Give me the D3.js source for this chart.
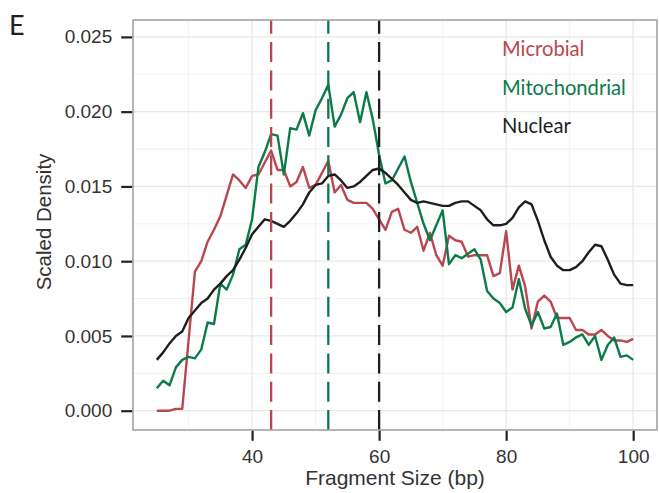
<!DOCTYPE html>
<html>
<head>
<meta charset="utf-8">
<script src="https://cdn.jsdelivr.net/npm/d3@7"></script>
<style>
  html, body { margin: 0; padding: 0; background: #fff; }
  svg { display: block; }
</style>
</head>
<body>
<svg id="chart" width="659" height="493"></svg>
<script>
// ---- data ----
const fragmentSizes = d3.range(25, 101); // 25..100 bp
const microbial = [
  0, 0, 0, 0.00012, 0.00012, 0.0047, 0.0093, 0.0100, 0.0113, 0.0121,
  0.0130, 0.0144, 0.0158, 0.0154, 0.0149, 0.0157, 0.0158, 0.0166, 0.0174, 0.0161,
  0.0161, 0.0150, 0.0153, 0.0163, 0.0149, 0.0151, 0.0159, 0.0167, 0.0146, 0.0151,
  0.0141, 0.0139, 0.0139, 0.0139, 0.0135, 0.0128, 0.0121, 0.0133, 0.0135, 0.0121,
  0.0119, 0.0123, 0.0107, 0.0119, 0.0104, 0.0097, 0.0117, 0.0114, 0.0113, 0.0103,
  0.0104, 0.0104, 0.0104, 0.0090, 0.0092, 0.0120, 0.0081, 0.0097, 0.0083, 0.0055,
  0.0073, 0.0077, 0.0073, 0.0062, 0.0062, 0.0062, 0.0054, 0.0054, 0.0051, 0.0051,
  0.0054, 0.0050, 0.0047, 0.0047, 0.0046, 0.0048
];
const mitochondrial = [
  0.0015, 0.0020, 0.0017, 0.0029, 0.0034, 0.0036, 0.0035, 0.0041, 0.0059, 0.0058,
  0.0085, 0.0081, 0.0091, 0.0108, 0.0111, 0.0128, 0.0163, 0.0173, 0.0185, 0.0184,
  0.0158, 0.0189, 0.0188, 0.0199, 0.0184, 0.0201, 0.0209, 0.0218, 0.0190, 0.0198,
  0.0209, 0.0213, 0.0193, 0.0213, 0.0195, 0.0171, 0.0152, 0.0154, 0.0162, 0.0170,
  0.0153, 0.0139, 0.0125, 0.0114, 0.0124, 0.0134, 0.0098, 0.0104, 0.0102, 0.0105,
  0.0108, 0.0101, 0.0080, 0.0075, 0.0072, 0.0066, 0.0069, 0.0088, 0.0068, 0.0057,
  0.0066, 0.0055, 0.0056, 0.0065, 0.0044, 0.0046, 0.0049, 0.0051, 0.0044, 0.0050,
  0.0034, 0.0044, 0.0049, 0.0036, 0.0037, 0.0034
];
const nuclear = [
  0.0034, 0.0039, 0.0045, 0.0050, 0.0053, 0.0062, 0.0067, 0.0072, 0.0075, 0.0081,
  0.0085, 0.0090, 0.0094, 0.0101, 0.0109, 0.0118, 0.0123, 0.0128, 0.0127, 0.0125,
  0.0123, 0.0127, 0.0132, 0.0138, 0.0146, 0.0151, 0.0152, 0.0157, 0.0158, 0.0154,
  0.0149, 0.0150, 0.0153, 0.0157, 0.0161, 0.0162, 0.0159, 0.0155, 0.0151, 0.0146,
  0.0141, 0.0139, 0.0140, 0.0139, 0.0138, 0.0137, 0.0137, 0.0139, 0.0140, 0.0140,
  0.0137, 0.0134, 0.0128, 0.0124, 0.0124, 0.0125, 0.0129, 0.0136, 0.0140, 0.0138,
  0.0127, 0.0114, 0.0103, 0.0097, 0.0094, 0.0094, 0.0096, 0.0100, 0.0106, 0.0111,
  0.0110, 0.0101, 0.0091, 0.0085, 0.0084, 0.0084
];
const seriesNames = ["Microbial", "Mitochondrial", "Nuclear"];
const seriesColors = ["#b8474f", "#0d7a4a", "#1e1e1e"];
const peakSizes = [43, 52, 60]; // dashed vertical lines (mode of each series)
const xTicks = [40, 60, 80, 100];
const yTicks = [0, 0.005, 0.010, 0.015, 0.020, 0.025];
const xTitle = "Fragment Size (bp)";
const yTitle = "Scaled Density";
const panelLabel = "E";

// ---- layout ----
const svg = d3.select("#chart");
const panel = { left: 133, right: 657, top: 20, bottom: 430 };

const x = d3.scaleLinear().domain([21.25, 103.75]).range([panel.left, panel.right]);
const y = d3.scaleLinear().domain([-0.00129, 0.02613]).range([panel.bottom, panel.top]);

// grid
const grid = svg.append("g");
const minorX = [30, 50, 70, 90];
const minorY = [0.0025, 0.0075, 0.0125, 0.0175, 0.0225];
grid.selectAll(".mx").data(minorX).join("line")
  .attr("x1", d => x(d)).attr("x2", d => x(d))
  .attr("y1", panel.top).attr("y2", panel.bottom)
  .attr("stroke", "#f3f3f3").attr("stroke-width", 1.1);
grid.selectAll(".my").data(minorY).join("line")
  .attr("y1", d => y(d)).attr("y2", d => y(d))
  .attr("x1", panel.left).attr("x2", panel.right)
  .attr("stroke", "#f0f0f0").attr("stroke-width", 1.1);
grid.selectAll(".Mx").data(xTicks).join("line")
  .attr("x1", d => x(d)).attr("x2", d => x(d))
  .attr("y1", panel.top).attr("y2", panel.bottom)
  .attr("stroke", "#e8e8e8").attr("stroke-width", 1.3);
grid.selectAll(".My").data(yTicks).join("line")
  .attr("y1", d => y(d)).attr("y2", d => y(d))
  .attr("x1", panel.left).attr("x2", panel.right)
  .attr("stroke", "#e8e8e8").attr("stroke-width", 1.3);

// clip
svg.append("clipPath").attr("id", "clip").append("rect")
  .attr("x", panel.left).attr("y", panel.top)
  .attr("width", panel.right - panel.left).attr("height", panel.bottom - panel.top);

const plot = svg.append("g").attr("clip-path", "url(#clip)");

// series lines
const allSeries = [microbial, mitochondrial, nuclear];
const line = d3.line().x((d, i) => x(fragmentSizes[i])).y(d => y(d));
allSeries.forEach((s, k) => {
  plot.append("path").datum(s)
    .attr("d", line)
    .attr("fill", "none")
    .attr("stroke", seriesColors[k])
    .attr("stroke-width", 2.4)
    .attr("stroke-linejoin", "round");
});

// dashed peak lines (drawn bottom -> top)
peakSizes.forEach((p, k) => {
  plot.append("line")
    .attr("x1", x(p)).attr("x2", x(p))
    .attr("y1", panel.bottom).attr("y2", panel.top)
    .attr("stroke", seriesColors[k])
    .attr("stroke-width", 2.3)
    .attr("stroke-dasharray", "20,8.3");
});

// panel border
svg.append("rect")
  .attr("x", panel.left).attr("y", panel.top)
  .attr("width", panel.right - panel.left).attr("height", panel.bottom - panel.top)
  .attr("fill", "none").attr("stroke", "#a3a3a3").attr("stroke-width", 1.6);

// axes
const tickFont = "'Liberation Sans', Arial, sans-serif";
const xAxis = d3.axisBottom(x).tickValues(xTicks).tickSize(10).tickPadding(9).tickFormat(d3.format("d"));
const gx = svg.append("g").attr("transform", `translate(0,${panel.bottom + 0.8})`).call(xAxis);
gx.select(".domain").remove();
gx.selectAll(".tick line").attr("stroke", "#222").attr("stroke-width", 2.2);
gx.selectAll(".tick text").attr("fill", "#333").style("font-family", tickFont).style("font-size", "19px");

const yAxis = d3.axisLeft(y).tickValues(yTicks).tickSize(11).tickPadding(9).tickFormat(d3.format(".3f"));
const gy = svg.append("g").attr("transform", `translate(${panel.left - 0.8},0)`).call(yAxis);
gy.select(".domain").remove();
gy.selectAll(".tick line").attr("stroke", "#222").attr("stroke-width", 2.2);
gy.selectAll(".tick text").attr("fill", "#333").style("font-family", tickFont).style("font-size", "19px");

// axis titles
svg.append("text")
  .attr("x", (panel.left + panel.right) / 2).attr("y", 485)
  .attr("text-anchor", "middle")
  .style("font-family", tickFont).style("font-size", "21px").attr("fill", "#333")
  .text(xTitle);
svg.append("text")
  .attr("transform", `translate(51,${(panel.top + panel.bottom) / 2 - 3}) rotate(-90)`)
  .attr("text-anchor", "middle")
  .style("font-family", tickFont).style("font-size", "20.5px").attr("fill", "#333")
  .text(yTitle);

// legend (text labels), font size fitted so "Mitochondrial" spans ~124px
const legendFont = "Lato, 'Open Sans', sans-serif";
const legendTexts = seriesNames.map((n, k) =>
  svg.append("text")
    .attr("x", 502).attr("y", 56 + k * 38.7)
    .style("font-family", legendFont).style("font-size", "20px")
    .attr("fill", seriesColors[k])
    .text(n)
);
const wMito = legendTexts[1].node().getComputedTextLength();
const legendSize = wMito > 0 ? Math.max(18, Math.min(23, 20 * 124 / wMito)) : 21;
legendTexts.forEach(t => t.style("font-size", legendSize + "px"));

// panel label
svg.append("text")
  .attr("x", 9).attr("y", 35)
  .style("font-family", legendFont).style("font-size", "27px")
  .attr("fill", "#222")
  .text(panelLabel);
</script>
</body>
</html>
